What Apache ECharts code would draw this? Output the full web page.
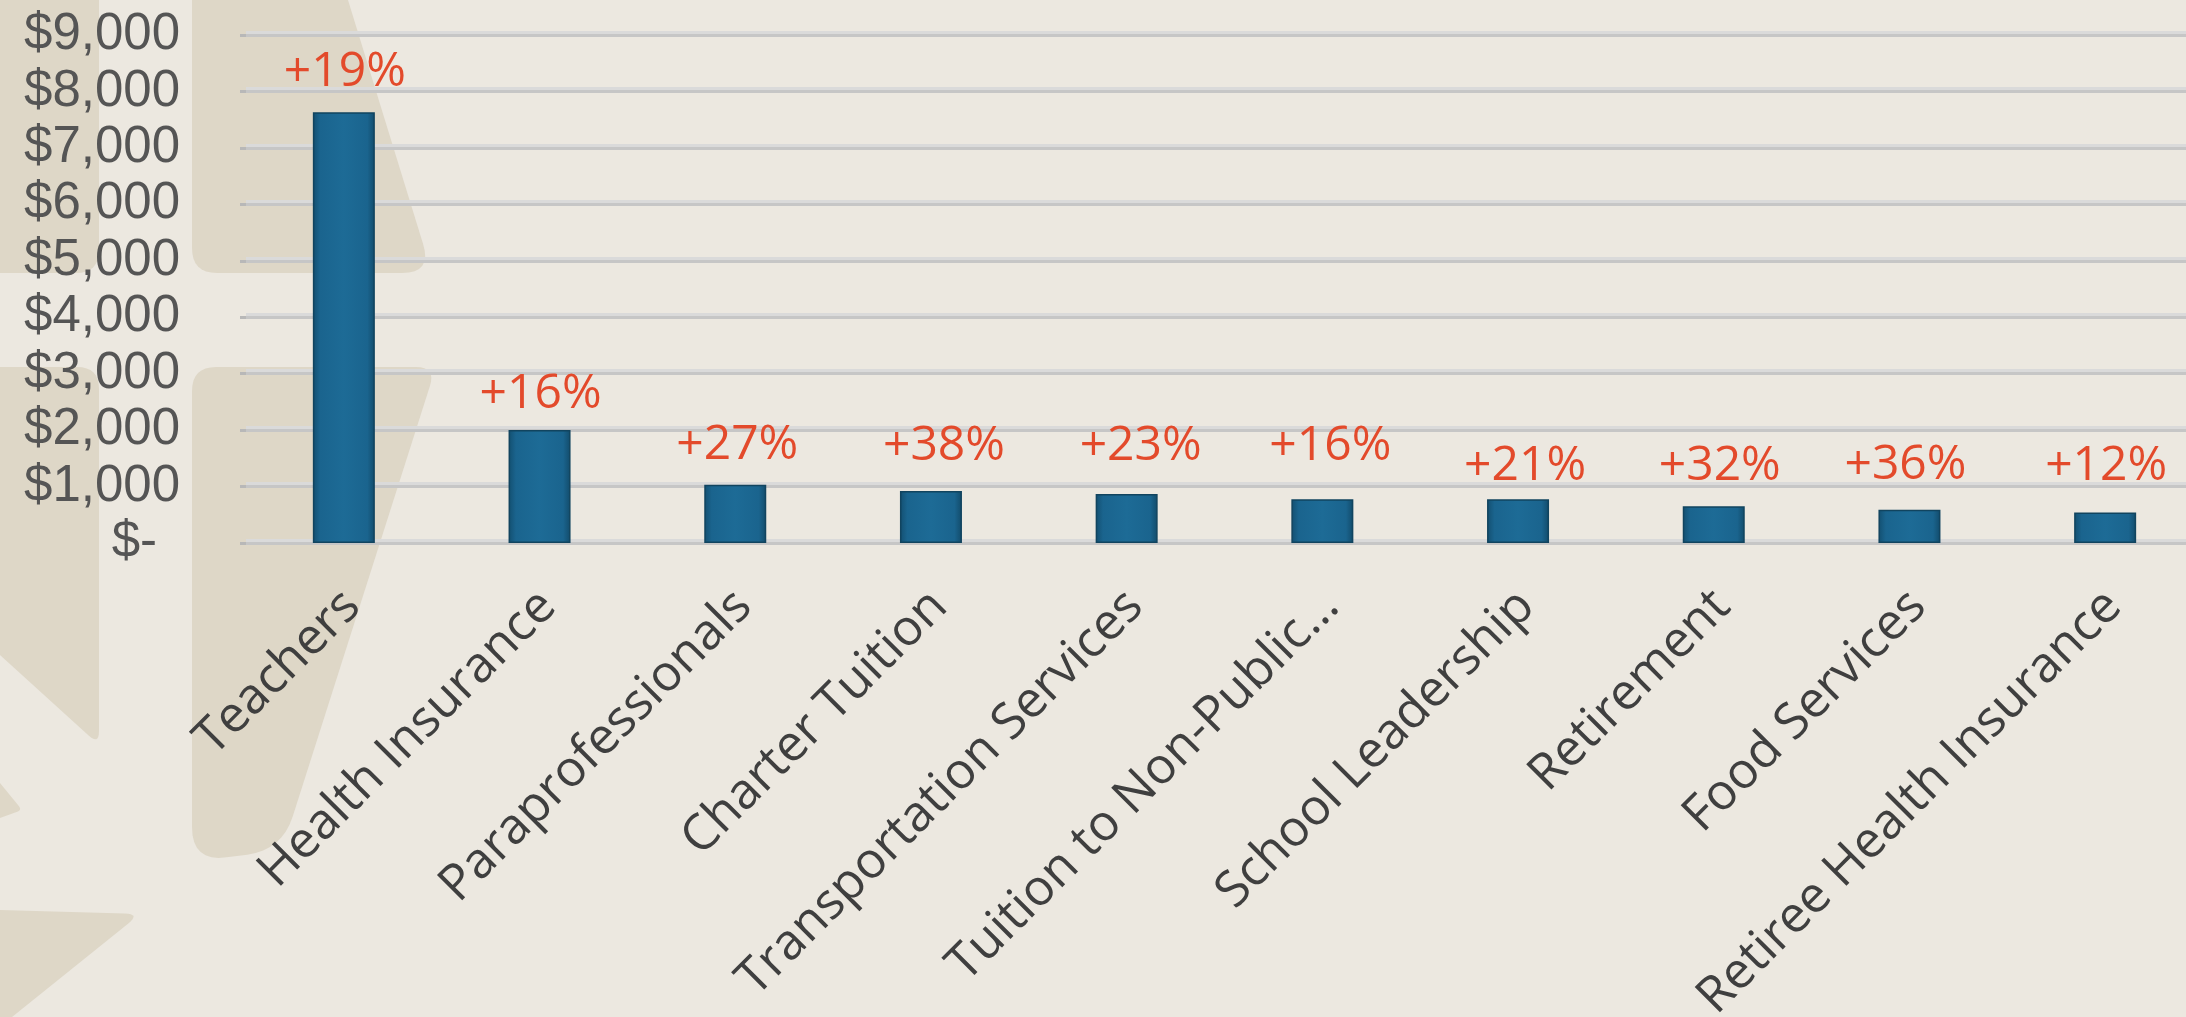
<!DOCTYPE html>
<html><head><meta charset="utf-8">
<script src="https://cdn.jsdelivr.net/npm/echarts@6/dist/echarts.min.js"></script>
<style>html,body{margin:0;padding:0;background:#ece8e0;overflow:hidden;width:2186px;height:1017px}#c{width:2203px;height:1017px}</style>
</head><body><div id="c"></div>
<script>
// ---- data ----
const categories = ['Teachers', 'Health Insurance', 'Paraprofessionals', 'Charter Tuition',
  'Transportation Services', 'Tuition to Non-Public…', 'School Leadership', 'Retirement',
  'Food Services', 'Retiree Health Insurance'];
const spending = [7630, 2000, 1030, 920, 870, 775, 775, 650, 590, 540];
const changeLabels = ['+19%', '+16%', '+27%', '+38%', '+23%', '+16%', '+21%', '+32%', '+36%', '+12%'];
const yTickLabels = ['$-', '$1,000', '$2,000', '$3,000', '$4,000', '$5,000', '$6,000', '$7,000', '$8,000', '$9,000'];

// ---- layout / style (not data) ----
const labelGap = [40, 36, 40, 45, 48, 53, 33, 40, 44, 46];
const labelDx = [1, 1, 2, 13, 14, 8, 7, 6, -4, 1];
const shapeFill = '#ded7c7';
// decorative background shapes: vertices [x, y, cornerRadius]
const bgShapes = [
  [[0, 0, 0], [99, 0, 0], [99, 273, 23], [0, 273, 0]],
  [[192, 0, 0], [348, 0, 0], [432, 273, 30], [192, 273, 25]],
  [[0, 367, 0], [99, 367, 22], [99, 745, 14], [0, 655, 0]],
  [[0, 783, 0], [22, 810, 5], [0, 818, 0]],
  [[0, 910, 0], [140, 914, 15], [12, 1017, 0], [0, 1017, 0]],
  [[192, 367, 24], [436, 367, 20], [282, 850, 35], [192, 862, 35]]
];
function roundPoly(vs) {
  const out = [];
  const n = vs.length;
  for (let i = 0; i < n; i++) {
    const [x, y, r] = vs[i];
    if (!r) { out.push([x, y]); continue; }
    const p = vs[(i - 1 + n) % n], q = vs[(i + 1) % n];
    const d1 = Math.hypot(p[0] - x, p[1] - y), d2 = Math.hypot(q[0] - x, q[1] - y);
    const r1 = Math.min(r, d1 / 2), r2 = Math.min(r, d2 / 2);
    const ax = x + (p[0] - x) / d1 * r1, ay = y + (p[1] - y) / d1 * r1;
    const bx = x + (q[0] - x) / d2 * r2, by = y + (q[1] - y) / d2 * r2;
    for (let k = 0; k <= 8; k++) {
      const t = k / 8, u = 1 - t;
      out.push([u * u * ax + 2 * u * t * x + t * t * bx, u * u * ay + 2 * u * t * y + t * t * by]);
    }
  }
  return out;
}

const chart = echarts.init(document.getElementById('c'), null, {renderer: 'canvas'});
const barFill = {
  type: 'linear', x: 0, y: 0, x2: 1, y2: 0,
  colorStops: [
    {offset: 0, color: '#134f70'}, {offset: 0.12, color: '#1a648e'},
    {offset: 0.5, color: '#1d6b96'}, {offset: 0.88, color: '#1a648e'}, {offset: 1, color: '#124b6a'}
  ]
};

chart.setOption({
  backgroundColor: '#ece8e0',
  animation: false,
  graphic: bgShapes.map(s => ({type: 'polygon', silent: true, z: -100, shape: {points: roundPoly(s)}, style: {fill: shapeFill}})),
  grid: {left: 246, right: 0, top: 35, bottom: 474, containLabel: false, outerBoundsMode: 'none'},
  xAxis: {
    type: 'category',
    data: categories,
    axisLine: {show: false},
    axisTick: {show: false},
    axisLabel: {
      interval: 0, rotate: 45, margin: 64, padding: [0, -12, 0, 0],
      fontFamily: 'Open Sans', fontSize: 50, color: '#3f3f3f'
    }
  },
  yAxis: {
    type: 'value', min: 0, max: 9000, interval: 1000,
    axisLine: {show: false},
    axisTick: {show: true, length: 6, lineStyle: {color: '#b8b8b8', width: 3}},
    splitLine: {lineStyle: {color: '#c6c6c6', width: 3, shadowColor: '#dadada', shadowOffsetY: -3, shadowBlur: 0}},
    axisLabel: {
      margin: 66, fontFamily: 'Liberation Sans', fontSize: 51, color: '#555555',
      formatter: v => {
        const t = yTickLabels[Math.round(v / 1000)];
        return v === 0 ? '{z|' + t + '}' : t;
      },
      rich: {z: {fontFamily: 'Liberation Sans', fontSize: 51, color: '#555555', padding: [0, 23, 0, 0]}}
    }
  },
  series: [{
    type: 'bar',
    barWidth: 62,
    data: spending.map((v, i) => ({
      value: v,
      label: {distance: labelGap[i], offset: [labelDx[i], 0]}
    })),
    itemStyle: {color: barFill, borderColor: '#11445f', borderWidth: 1.5},
    label: {
      show: true, position: 'top', verticalAlign: 'middle',
      fontFamily: 'Open Sans', fontSize: 48, color: '#e34a2b',
      formatter: p => changeLabels[p.dataIndex]
    }
  }]
});
</script>
</body></html>
